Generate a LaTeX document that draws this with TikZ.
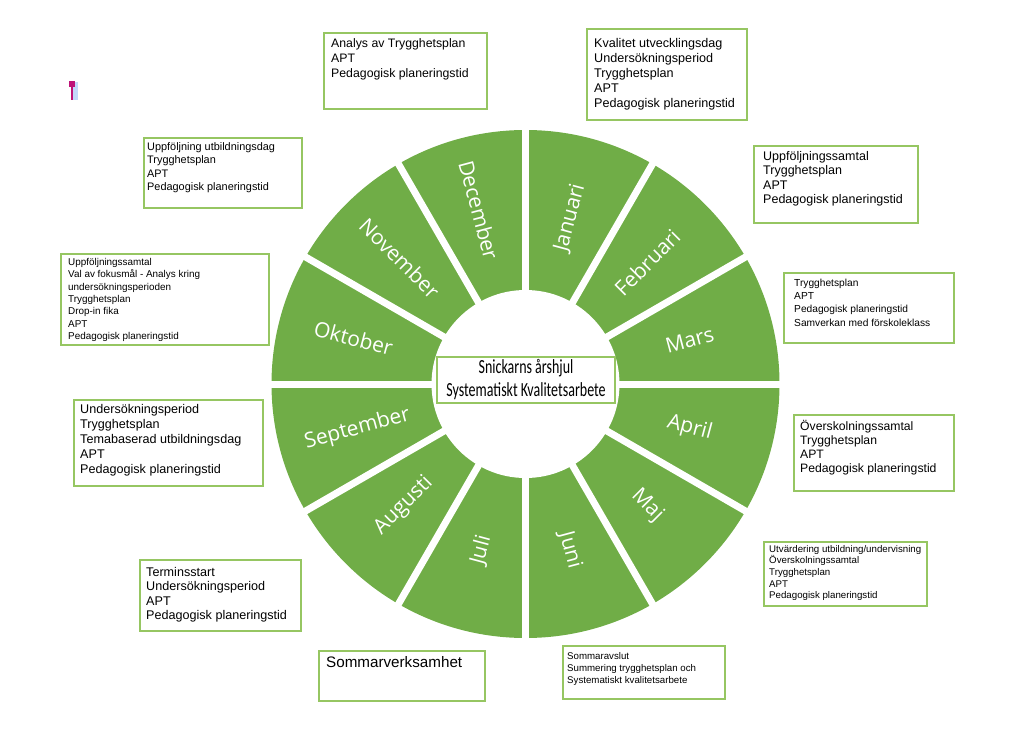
\documentclass[tikz,border=0pt]{standalone}
\usepackage{fontspec}
\setmainfont{Liberation Sans}
\newfontfamily\monthfont{Open Sans}
\newfontfamily\centerfont{Carlito}
\usetikzlibrary{calc}
\definecolor{wheelgreen}{RGB}{112,173,71}
\definecolor{boxgreen}{RGB}{150,198,98}
\definecolor{markmag}{RGB}{190,20,120}
\definecolor{markblue}{RGB}{195,215,250}
\tikzset{
  infobox/.style={draw=boxgreen, line width=2.2pt, fill=white, anchor=north west, inner sep=0pt},
  boxtext/.style={anchor=base west, inner sep=0pt, text=black},
  monthlabel/.style={text=white, font=\monthfont\fontsize{21}{24}\selectfont, inner sep=0pt},
  gapline/.style={white, line width=7pt}
}
\newcommand{\fs}[2]{\fontsize{#1}{#2}\selectfont}
\newcommand{\boxlines}[1]{\begin{tabular}[t]{@{}l@{}}#1\end{tabular}}
\begin{document}
\begin{tikzpicture}[x=1pt,y=1pt]
\useasboundingbox (0,0) rectangle (1024,-730);
% small mark
\fill[markblue] (73,-82) rectangle (78,-100);
\draw[markmag, line width=2pt] (71.5,-84) -- (71.5,-100);
\fill[markmag] (69,-81) rectangle (75,-87);
% wheel
\coordinate (C) at (525.5,-384);
\fill[wheelgreen] (C) circle (254);
\fill[white] (C) circle (94);
\foreach \a in {0,30,...,330}{
  \draw[gapline] ($(C)+(\a:90)$) -- ($(C)+(\a:262)$);
}
% month labels
\node[monthlabel, rotate=75]  (m1)  at ($(C)+(75:172)$)   {Januari};
\node[monthlabel, rotate=45]  (m2)  at ($(C)+(45:172)$)   {Februari};
\node[monthlabel, rotate=15]  (m3)  at ($(C)+(15:170)$)   {Mars};
\node[monthlabel, rotate=-15] (m4)  at ($(C)+(-15:170)$)  {April};
\node[monthlabel, rotate=-45] (m5)  at ($(C)+(-45:172)$)  {Maj};
\node[monthlabel, rotate=-75] (m6)  at ($(C)+(-75:172)$)  {Juni};
\node[monthlabel, rotate=75]  (m7)  at ($(C)+(-105:172)$) {Juli};
\node[monthlabel, rotate=45]  (m8)  at ($(C)+(-135:172)$) {Augusti};
\node[monthlabel, rotate=15]  (m9)  at ($(C)+(-165:174)$) {September};
\node[monthlabel, rotate=-15] (m10) at ($(C)+(165:178)$)  {Oktober};
\node[monthlabel, rotate=-45] (m11) at ($(C)+(135:178)$)  {November};
\node[monthlabel, rotate=-75] (m12) at ($(C)+(105:180)$)  {December};
% center
\node[draw=boxgreen, line width=2pt, fill=white, minimum width=178pt, minimum height=46pt, inner sep=0pt] (center) at (526,-380) {};
\node[align=center, inner sep=0pt, font=\centerfont\fs{20}{23}] (centertext) at (center.center) {\scalebox{0.7}[1]{Snickarns årshjul}\\\scalebox{0.7}[1]{Systematiskt Kvalitetsarbete}};
% boxes
\node[infobox, minimum width=163pt, minimum height=76pt] (b1) at (323,-32) {};
\node[boxtext, font=\fs{12.3}{14.7}] (t1) at (331,-48) {\boxlines{Analys av Trygghetsplan\\APT\\Pedagogisk planeringstid}};

\node[infobox, minimum width=160pt, minimum height=91pt] (b2) at (586,-28) {};
\node[boxtext, font=\fs{12.6}{15}] (t2) at (594,-48) {\boxlines{Kvalitet utvecklingsdag\\Undersökningsperiod\\Trygghetsplan\\APT\\Pedagogisk planeringstid}};

\node[infobox, minimum width=158pt, minimum height=70pt] (b3) at (143,-137) {};
\node[boxtext, font=\fs{10.9}{13.6}] (t3) at (147,-150) {\boxlines{Uppföljning utbildningsdag\\Trygghetsplan\\APT\\Pedagogisk planeringstid}};

\node[infobox, minimum width=208pt, minimum height=91pt] (b4) at (60,-253) {};
\node[boxtext, font=\fs{9.9}{12.3}] (t4) at (68,-265.5) {\boxlines{Uppföljningssamtal\\Val av fokusmål - Analys kring\\undersökningsperioden\\Trygghetsplan\\Drop-in fika\\APT\\Pedagogisk planeringstid}};

\node[infobox, minimum width=164pt, minimum height=77pt] (b5) at (753,-145) {};
\node[boxtext, font=\fs{12.5}{14.4}] (t5) at (763,-160.5) {\boxlines{Uppföljningssamtal\\Trygghetsplan\\APT\\Pedagogisk planeringstid}};

\node[infobox, minimum width=170pt, minimum height=70pt] (b6) at (783,-272) {};
\node[boxtext, font=\fs{10.2}{13.4}] (t6) at (794,-286) {\boxlines{Trygghetsplan\\APT\\Pedagogisk planeringstid\\Samverkan med förskoleklass}};

\node[infobox, minimum width=160pt, minimum height=76pt] (b7) at (793,-414) {};
\node[boxtext, font=\fs{12.2}{14}] (t7) at (800,-430.5) {\boxlines{Överskolningssamtal\\Trygghetsplan\\APT\\Pedagogisk planeringstid}};

\node[infobox, minimum width=163pt, minimum height=64pt] (b8) at (763,-541) {};
\node[boxtext, font=\fs{9.7}{11.7}] (t8) at (769,-552) {\boxlines{Utvärdering utbildning/undervisning\\Överskolningssamtal\\Trygghetsplan\\APT\\Pedagogisk planeringstid}};

\node[infobox, minimum width=162pt, minimum height=53pt] (b9) at (562,-645) {};
\node[boxtext, font=\fs{9.7}{12}] (t9) at (567,-659.5) {\boxlines{Sommaravslut\\Summering trygghetsplan och\\Systematiskt kvalitetsarbete}};

\node[infobox, minimum width=166pt, minimum height=50pt] (b10) at (318,-650) {};
\node[boxtext, font=\fs{15.2}{17}] (t10) at (326,-667) {Sommarverksamhet};

\node[infobox, minimum width=189pt, minimum height=86pt] (b11) at (73,-399) {};
\node[boxtext, font=\fs{12.6}{15}] (t11) at (80,-413.5) {\boxlines{Undersökningsperiod\\Trygghetsplan\\Temabaserad utbildningsdag\\APT\\Pedagogisk planeringstid}};

\node[infobox, minimum width=161pt, minimum height=71pt] (b12) at (139,-559) {};
\node[boxtext, font=\fs{12.6}{14.5}] (t12) at (146,-576) {\boxlines{Terminsstart\\Undersökningsperiod\\APT\\Pedagogisk planeringstid}};
\end{tikzpicture}
\end{document}
